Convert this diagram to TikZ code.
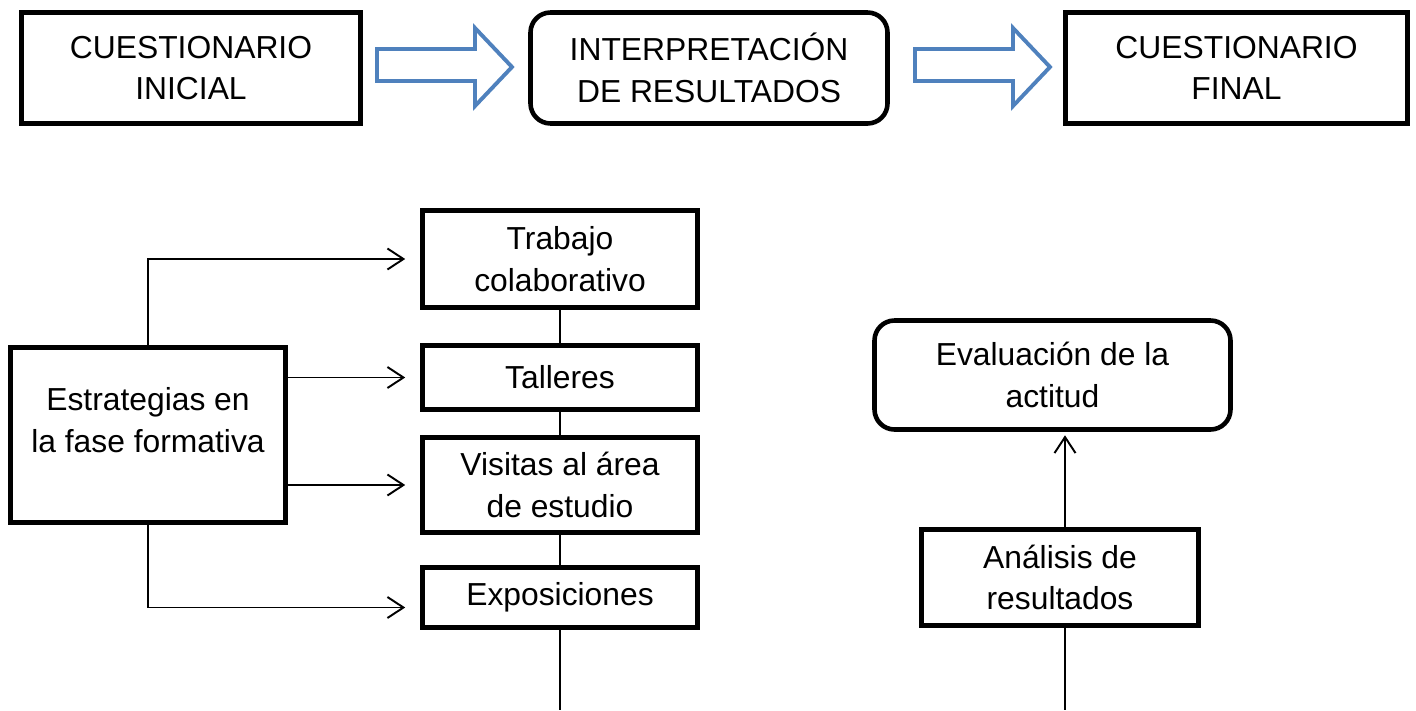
\documentclass[tikz,border=0pt]{standalone}
\usepackage{fontspec}
\setmainfont{Liberation Sans}
\usetikzlibrary{calc,positioning,arrows.meta}
\definecolor{azul}{RGB}{79,129,189}

\begin{document}
\begin{tikzpicture}[texto/.style={align=center,font=\fontsize{18.1}{23.5}\selectfont},
  caja/.style={texto,draw,line width=2.6pt,inner sep=2pt},
  cajar/.style={caja,rounded corners=0.4cm},
  linea/.style={line width=1.1pt},
  flecha/.style={linea,-{Straight Barb[length=0.32cm,width=0.42cm]},shorten >=0.3cm},
  bloque/.style={draw=azul,fill=white,line width=2.2pt,line join=miter}]

  \useasboundingbox (0,0) rectangle (28.32,-14.2);

  % fila de arriba
  \node[caja,minimum width=6.78cm,minimum height=2.22cm] (ci) at (3.82,-1.36) {CUESTIONARIO\\INICIAL};
  \node[cajar,minimum width=7.14cm,minimum height=2.22cm] (ir) at (14.18,-1.36) {INTERPRETACIÓN\\DE RESULTADOS};
  \node[caja,minimum width=6.84cm,minimum height=2.22cm] (cf) at (24.73,-1.36) {CUESTIONARIO\\FINAL};

  \draw[bloque] (7.54,-0.98) -- (9.5,-0.98) -- (9.5,-0.56) -- (10.24,-1.34) -- (9.5,-2.12) -- (9.5,-1.62) -- (7.54,-1.62) -- cycle;
  \draw[bloque] (18.3,-0.98) -- (20.26,-0.98) -- (20.26,-0.56) -- (21.0,-1.34) -- (20.26,-2.12) -- (20.26,-1.62) -- (18.3,-1.62) -- cycle;

  % fase formativa
  \node[caja,minimum width=5.5cm,minimum height=3.5cm] (est) at (2.96,-8.7) {};
  \node[texto] (estt) at ([yshift=0.3cm]est.center) {Estrategias en\\la fase formativa};
  \node[caja,minimum width=5.5cm,minimum height=1.94cm] (tra) at (11.2,-5.18) {Trabajo\\colaborativo};
  \node[caja,minimum width=5.5cm,minimum height=1.28cm] (tal) at (11.2,-7.55) {Talleres};
  \node[caja,minimum width=5.5cm,minimum height=1.9cm] (vis) at (11.2,-9.7) {Visitas al área\\de estudio};
  \node[caja,minimum width=5.5cm,minimum height=1.2cm] (exp) at (11.2,-11.95) {Exposiciones};
  \coordinate (fin1) at (11.2,-14.2);

  \draw[linea] (tra) -- (tal) (tal) -- (vis) (vis) -- (exp) (exp) -- (fin1);

  \draw[flecha] (est.north) |- (tra.west);
  \draw[flecha] (est.east |- tal.west) -- (tal.west);
  \draw[flecha] (est.east |- vis.west) -- (vis.west);
  \draw[flecha] (est.south) |- ([yshift=-0.2cm]exp.west);

  % evaluacion
  \node[cajar,minimum width=7.12cm,minimum height=2.18cm] (eva) at (21.05,-7.5) {Evaluación de la\\actitud};
  \node[caja,minimum width=5.54cm,minimum height=1.92cm] (ana) at (21.2,-11.55) {Análisis de\\resultados};
  \coordinate (fin2) at (21.3,-14.2);

  \draw[flecha,shorten >=2pt] ([xshift=0.1cm]ana.north) -- ([xshift=0.1cm]ana.north |- eva.south);
  \draw[linea] ([xshift=0.1cm]ana.south) -- (fin2);
\end{tikzpicture}
\end{document}
